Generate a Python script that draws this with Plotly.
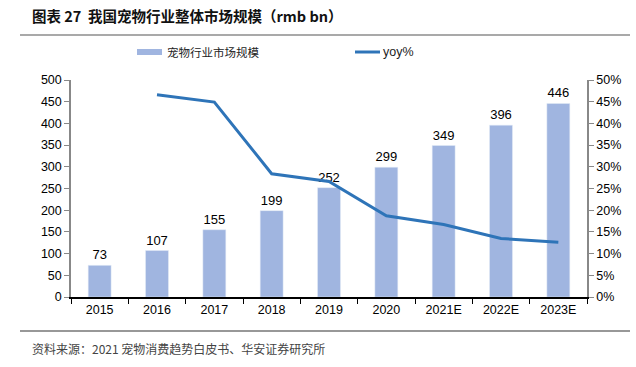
import plotly.graph_objects as go

years = ["2015", "2016", "2017", "2018", "2019", "2020", "2021E", "2022E", "2023E"]
market_size = [73, 107, 155, 199, 252, 299, 349, 396, 446]
yoy_years = ["2016", "2017", "2018", "2019", "2020", "2021E", "2022E", "2023E"]
yoy = [0.466, 0.449, 0.284, 0.266, 0.187, 0.167, 0.135, 0.126]

bar_name = "宠物行业市场规模"
line_name = "yoy%"
title_text = "图表 27  我国宠物行业整体市场规模（rmb bn）"
source_text = "资料来源：2021 宠物消费趋势白皮书、华安证券研究所"

BAR_C = "#A0B5E0"
LINE_C = "#2E74B8"
FONT = "Liberation Sans, Arial, Noto Sans CJK SC, sans-serif"
CJK = "Noto Sans CJK SC, sans-serif"

L, R, T, B = 71, 49, 80, 70
W, H = 636, 367
PW, PH = W - L - R, H - T - B


def px(x):
    return (x - L) / PW


def py(y):
    return (H - B - y) / PH


fig = go.Figure()
fig.add_trace(go.Bar(
    x=years, y=market_size, name=bar_name, marker_color=BAR_C,
    width=0.4, text=[str(v) for v in market_size], textposition="outside",
    textfont=dict(size=13, color="#000", family=FONT), cliponaxis=False,
    showlegend=False,
))
fig.add_trace(go.Scatter(
    x=yoy_years, y=yoy, name=line_name, mode="lines",
    line=dict(color=LINE_C, width=3), yaxis="y2", showlegend=False,
))

rules = []
for yy, col in ((35, "#555555"), (331, "#333333")):
    for a, b in ((20, 325), (325, 630)):
        rules.append(dict(type="line", xref="paper", yref="paper", x0=px(a), x1=px(b),
                          y0=py(yy), y1=py(yy), line=dict(color=col, width=1.2)))

fig.update_layout(
    width=W, height=H,
    margin=dict(l=L, r=R, t=T, b=B, autoexpand=False),
    plot_bgcolor="white", paper_bgcolor="white",
    font=dict(family=FONT, size=12.5, color="#000"),
    xaxis=dict(
        type="category", showline=True, linecolor="#000", linewidth=1.5,
        ticks="outside", tickson="boundaries", ticklen=5, tickcolor="#000",
        showgrid=False, tickfont=dict(size=12.5), automargin=False,
    ),
    yaxis=dict(
        range=[0, 500], dtick=50, showline=True, linecolor="#888", linewidth=1.5,
        ticks="outside", ticklen=5, tickcolor="#888", showgrid=False, zeroline=False,
        tickfont=dict(size=12.5), automargin=False,
    ),
    yaxis2=dict(
        range=[0, 0.5], dtick=0.05, tickformat=".0%", overlaying="y", side="right",
        showline=True, linecolor="#888", linewidth=1.5, ticks="outside", ticklen=5,
        tickcolor="#888", showgrid=False, zeroline=False, tickfont=dict(size=12.5),
        automargin=False,
    ),
    shapes=rules + [
        dict(type="rect", xref="paper", yref="paper",
             x0=px(137), x1=px(162), y0=py(55), y1=py(49),
             fillcolor=BAR_C, line=dict(width=0)),
        dict(type="line", xref="paper", yref="paper",
             x0=px(355), x1=px(380), y0=py(52), y1=py(52),
             line=dict(color=LINE_C, width=3)),
    ],
    annotations=[
        dict(text="<b>" + title_text + "</b>", xref="paper", yref="paper",
             x=px(30), y=py(16), xanchor="left", yanchor="middle",
             showarrow=False, font=dict(size=14.5, family=CJK, color="#111")),
        dict(text=bar_name, xref="paper", yref="paper",
             x=px(165), y=py(52), xanchor="left", yanchor="middle",
             showarrow=False, font=dict(size=11.5, family=CJK, color="#222")),
        dict(text=line_name, xref="paper", yref="paper",
             x=px(381), y=py(52), xanchor="left", yanchor="middle",
             showarrow=False, font=dict(size=12.5, family=FONT, color="#222")),
        dict(text=source_text, xref="paper", yref="paper",
             x=px(30), y=py(348), xanchor="left", yanchor="middle",
             showarrow=False, font=dict(size=12, family=CJK, color="#444")),
    ],
)

fig.write_html("out.html", config={"displayModeBar": False},
               post_script="document.body.style.margin='0';")
